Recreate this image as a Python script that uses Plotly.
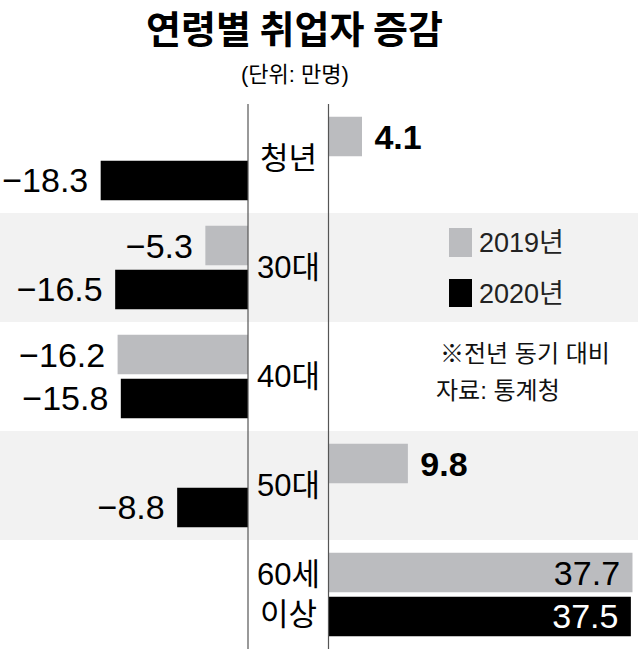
import plotly.graph_objects as go

# ---- data ----
categories = ["청년", "30대", "40대", "50대", "60세 이상"]
cat_labels = ["청년", "30대", "40대", "50대", "60세<br>이상"]
series_names = ["2019년", "2020년"]
values_2019 = [4.1, -5.3, -16.2, 9.8, 37.7]
values_2020 = [-18.3, -16.5, -15.8, -8.8, 37.5]
title_text = "연령별 취업자 증감"
unit_text = "(단위: 만명)"
note_lines = ["※전년 동기 대비", "자료: 통계청"]

GRAY = "#bbbcbf"
BLACK = "#000000"
BAND = "#f2f2f2"
W, H = 640, 649
NUM_FONT = "Liberation Sans, Arial, Noto Sans CJK KR"
KR_FONT = "Liberation Sans, Noto Sans CJK KR"
NBSP = "\u00a0"


def px(x):
    return x / W


def py(y):
    return 1 - y / H


def fmt(v):
    s = f"{abs(v):.1f}"
    return ("\u2212" + s) if v < 0 else s


fig = go.Figure()


def add_side(vals, name, color, side, inside_color):
    if side == "left":
        xs = [v if v < 0 else None for v in vals]
        texts = [(fmt(v) + NBSP) if v < 0 else "" for v in vals]
        pos = ["outside"] * len(vals)
        tcol = [BLACK] * len(vals)
        axis = "x"
    else:
        xs = [v if v >= 0 else None for v in vals]
        texts, pos, tcol = [], [], []
        for v in vals:
            if v < 0:
                texts.append(""); pos.append("outside"); tcol.append(BLACK)
            elif v > 20:
                texts.append(fmt(v) + NBSP); pos.append("inside"); tcol.append(inside_color)
            else:
                texts.append(NBSP + "<b>" + fmt(v) + "</b>"); pos.append("outside"); tcol.append(BLACK)
        axis = "x2"
    fig.add_trace(go.Bar(
        y=categories, x=xs, orientation="h", name=name,
        marker=dict(color=color, line=dict(width=0)),
        text=texts, textposition=pos, insidetextanchor="end",
        textfont=dict(family=NUM_FONT, size=34, color=tcol),
        constraintext="none", cliponaxis=False,
        xaxis=axis, yaxis="y", showlegend=False, hoverinfo="skip",
    ))


add_side(values_2019, series_names[0], GRAY, "left", BLACK)
add_side(values_2020, series_names[1], BLACK, "left", "white")
add_side(values_2019, series_names[0], GRAY, "right", BLACK)
add_side(values_2020, series_names[1], BLACK, "right", "white")

top = 104
shapes = []
# alternating bands
for i in [1, 3]:
    shapes.append(dict(type="rect", xref="paper", yref="y", x0=0, x1=px(638),
                       y0=i - 0.5, y1=i + 0.5, fillcolor=BAND, line=dict(width=0),
                       layer="below"))
# divider lines
for xl in [248, 328.5]:
    shapes.append(dict(type="line", xref="paper", yref="paper", x0=px(xl), x1=px(xl),
                       y0=py(top), y1=0, line=dict(color="#555555", width=1.2)))
# legend squares
shapes.append(dict(type="rect", xref="paper", yref="paper", x0=px(449), x1=px(472),
                   y0=py(257), y1=py(228), fillcolor=GRAY, line=dict(width=0)))
shapes.append(dict(type="rect", xref="paper", yref="paper", x0=px(449), x1=px(472),
                   y0=py(307), y1=py(279), fillcolor=BLACK, line=dict(width=0)))

annotations = []
annotations.append(dict(text=f"<b>{title_text}</b>", xref="paper", yref="paper",
                        x=px(294), y=py(27), xanchor="center", yanchor="middle",
                        showarrow=False, font=dict(family="Noto Sans CJK KR", size=38, color=BLACK)))
annotations.append(dict(text=unit_text, xref="paper", yref="paper",
                        x=px(295), y=py(74), xanchor="center", yanchor="middle",
                        showarrow=False, font=dict(family=KR_FONT, size=22, color=BLACK)))
for i, lab in enumerate(cat_labels):
    annotations.append(dict(text=lab, xref="paper", yref="y", x=px(288.5), y=categories[i],
                            xanchor="center", yanchor="middle", showarrow=False,
                            font=dict(family=KR_FONT, size=31, color=BLACK)))
annotations.append(dict(text=series_names[0], xref="paper", yref="paper", x=px(477), y=py(243),
                        xanchor="left", yanchor="middle", showarrow=False,
                        font=dict(family=KR_FONT, size=27, color="#222222")))
annotations.append(dict(text=series_names[1], xref="paper", yref="paper", x=px(477), y=py(294),
                        xanchor="left", yanchor="middle", showarrow=False,
                        font=dict(family=KR_FONT, size=27, color="#222222")))
annotations.append(dict(text=note_lines[0], xref="paper", yref="paper", x=px(438), y=py(353),
                        xanchor="left", yanchor="middle", showarrow=False,
                        font=dict(family=KR_FONT, size=24, color="#111111")))
annotations.append(dict(text=note_lines[1], xref="paper", yref="paper", x=px(434), y=py(390),
                        xanchor="left", yanchor="middle", showarrow=False,
                        font=dict(family=KR_FONT, size=24, color="#111111")))

scale = 8.05  # px per unit
fig.update_layout(
    width=W, height=H,
    margin=dict(l=0, r=0, t=0, b=0),
    paper_bgcolor="white", plot_bgcolor="rgba(0,0,0,0)",
    barmode="group", bargap=0.193, bargroupgap=0.1,
    xaxis=dict(domain=[0, px(248)], range=[-248 / scale, 0], visible=False, fixedrange=True),
    xaxis2=dict(domain=[px(329), 1], range=[0, (W - 329) / scale], visible=False, fixedrange=True),
    yaxis=dict(domain=[0, py(top)], type="category", categoryorder="array",
               categoryarray=categories, range=[4.5, -0.5], visible=False, fixedrange=True),
    shapes=shapes, annotations=annotations, showlegend=False,
)

fig.write_html("out.html", config={"displayModeBar": False},
               post_script="document.body.style.margin='0';")
